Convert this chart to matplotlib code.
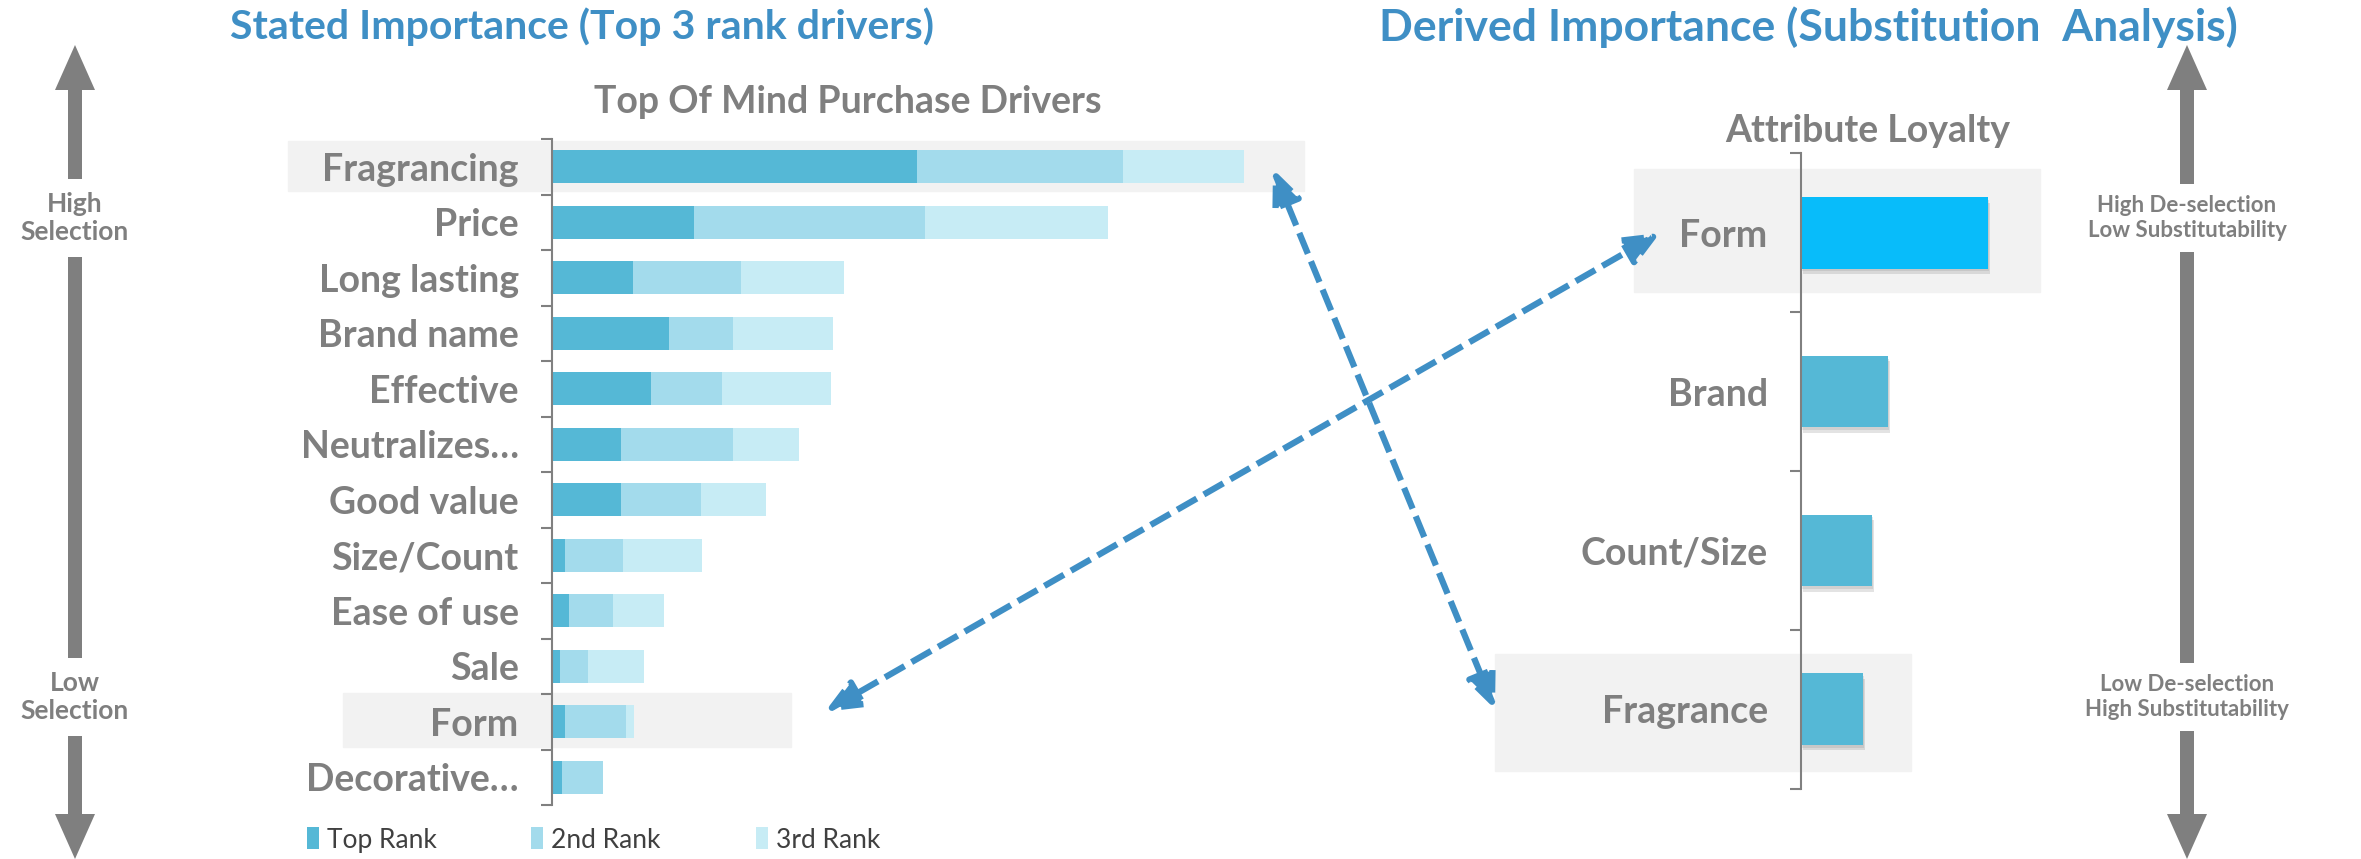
import numpy as np
import matplotlib.pyplot as plt
from matplotlib.patches import ConnectionPatch, FancyArrow
from matplotlib.patheffects import SimplePatchShadow, Normal

plt.rcParams['font.family'] = ['Lato', 'DejaVu Sans']

# stated importance: share of mentions by rank position
drivers = ["Fragrancing", "Price", "Long lasting", "Brand name", "Effective",
           "Neutralizes…", "Good value", "Size/Count", "Ease of use", "Sale",
           "Form", "Decorative…"]
top_rank = [36.5, 14.2, 8.1, 11.7, 9.9, 6.9, 6.9, 1.3, 1.7, 0.8, 1.3, 1.0]
second_rank = [20.6, 23.1, 10.8, 6.4, 7.1, 11.2, 8.0, 5.8, 4.4, 2.8, 6.1, 4.1]
third_rank = [12.1, 18.3, 10.3, 10.0, 10.9, 6.6, 6.5, 7.9, 5.1, 5.6, 0.8, 0.0]
rank_names = ["Top Rank", "2nd Rank", "3rd Rank"]

# derived importance: attribute loyalty from substitution analysis
attributes = ["Form", "Brand", "Count/Size", "Fragrance"]
loyalty = [18.7, 8.7, 7.1, 6.2]

# (driver, attribute) pairs linked between the two charts
links = [("Form", "Form"), ("Fragrancing", "Fragrance")]

GREY = '#7f7f7f'
BLUE = '#3f8fc5'
HILITE = '#f2f2f2'
rank_colors = ['#55b8d6', '#a3dbec', '#c7ecf5']

W, H = 2361, 859
fig = plt.figure(figsize=(W / 100, H / 100), dpi=100)


def px_axes(x0, y0, x1, y1):
    ax = fig.add_axes([x0 / W, 1 - y1 / H, (x1 - x0) / W, (y1 - y0) / H])
    ax.patch.set_alpha(0)
    return ax


# overlay in pixel units for the side arrows and headings
ov = fig.add_axes([0, 0, 1, 1], zorder=-1)
ov.set_xlim(0, W)
ov.set_ylim(H, 0)
ov.axis('off')

ax1 = px_axes(552, 139, 1310, 805)
ax2 = px_axes(1801, 153.5, 2040, 788.5)

# ---- left: stacked rank bars
y = np.arange(len(drivers))
left = np.zeros(len(drivers))
for vals, name, c in zip([top_rank, second_rank, third_rank], rank_names, rank_colors):
    ax1.barh(y, vals, left=left, height=0.6, color=c, label=name, zorder=2)
    left += np.array(vals)

ax1.set_xlim(0, 75.8)
ax1.set_ylim(len(drivers) - 0.5, -0.5)
ax1.axhspan(-0.47, 0.44, xmin=-0.348, xmax=0.992, color=HILITE, zorder=0, clip_on=False)
i_form = drivers.index("Form")
ax1.axhspan(i_form - 0.52, i_form + 0.45, xmin=-0.276, xmax=0.315, color=HILITE,
            zorder=0, clip_on=False)

# ---- right: attribute loyalty bars
y2 = np.arange(len(attributes))
bar_cols = ['#08bcfa'] + ['#55b8d6'] * (len(attributes) - 1)
bars = ax2.barh(y2, loyalty, height=0.45, color=bar_cols, zorder=2)
for b in bars:
    b.set_path_effects([SimplePatchShadow(offset=(1.5, -4), shadow_rgbFace='#666666', alpha=0.18),
                        SimplePatchShadow(offset=(1, -2), shadow_rgbFace='#666666', alpha=0.15),
                        Normal()])
ax2.set_xlim(0, 23.9)
ax2.set_ylim(len(attributes) - 0.5, -0.5)
ax2.axhspan(-0.4, 0.37, xmin=-0.70, xmax=1.0, color=HILITE, zorder=0, clip_on=False)
ax2.axhspan(2.65, 3.39, xmin=-1.28, xmax=0.46, color=HILITE, zorder=0, clip_on=False)

for ax, labels in [(ax1, drivers), (ax2, attributes)]:
    n = len(labels)
    ax.set_yticks(np.arange(n))
    ax.set_yticklabels(labels, fontsize=27, fontweight='bold', color=GREY)
    ax.set_yticks(np.arange(-0.5, n, 1), minor=True)
    ax.tick_params(axis='y', which='major', length=0, pad=24)
    ax.tick_params(axis='y', which='minor', length=8, width=1.5, color='#808080')
    ax.set_xticks([])
    for s in ['top', 'right', 'bottom']:
        ax.spines[s].set_visible(False)
    ax.spines['left'].set_color('#808080')
    ax.spines['left'].set_linewidth(1.5)

# ---- dashed links between the two charts
ends = {"Form": ((27.3, i_form - 0.18), (-14.1, 0.0)),
        "Fragrancing": ((72.1, 0.04), (-30.6, 3.0))}
for d, a in links:
    pa, pb = ends[d]
    con = ConnectionPatch(xyA=pa, coordsA=ax1.transData, xyB=pb, coordsB=ax2.transData,
                          arrowstyle='<|-|>,head_length=2.1,head_width=0.9',
                          mutation_scale=10, color=BLUE, lw=4.5,
                          linestyle=(0, (3.6, 1.3)), capstyle='butt', zorder=5)
    fig.add_artist(con)

# ---- side arrows
for x in [75, 2187]:
    for y0, dy in [(450, -405), (450, 409)]:
        ov.add_patch(FancyArrow(x, y0, 0, dy, width=14, head_width=40, head_length=45,
                                length_includes_head=True, color=GREY, lw=0))

box = dict(boxstyle='square,pad=0.5', fc='white', ec='none')
side = [(75, 218, "High\nSelection", 19), (75, 697, "Low\nSelection", 19),
        (2187, 218, "High De-selection\nLow Substitutability", 16),
        (2187, 697, "Low De-selection\nHigh Substitutability", 16)]
for x, yy, txt, fs in side:
    ov.text(x, yy, txt, ha='center', va='center', fontsize=fs, fontweight='bold',
            color=GREY, linespacing=1.2, bbox=box)

# ---- headings
ov.text(230, 27, "Stated Importance (Top 3 rank drivers)", fontsize=29.5,
        fontweight='bold', color=BLUE, va='center', ha='left')
ov.text(1379, 27, "Derived Importance (Substitution  Analysis)", fontsize=32,
        fontweight='bold', color=BLUE, va='center', ha='left')
ov.text(848, 102, "Top Of Mind Purchase Drivers", fontsize=27, fontweight='bold',
        color=GREY, va='center', ha='center')
ov.text(1868, 131, "Attribute Loyalty", fontsize=27, fontweight='bold',
        color=GREY, va='center', ha='center')

fig.legend(*ax1.get_legend_handles_labels(), loc='center left',
           bbox_to_anchor=(283 / W, 1 - 840 / H), ncol=3, frameon=False,
           fontsize=19, labelcolor='#404040', handlelength=0.45, handleheight=0.9,
           handletextpad=0.3, columnspacing=3.6)

fig.savefig('out.png', dpi=100)
